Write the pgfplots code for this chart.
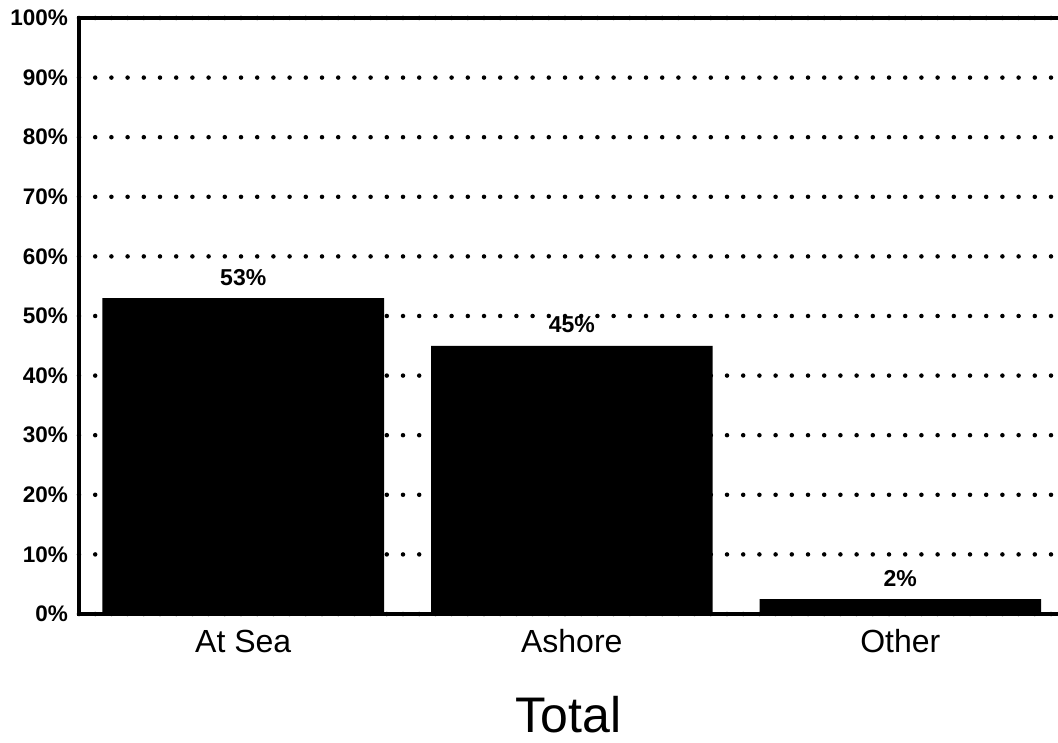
\documentclass[border=0pt]{standalone}
\usepackage{pgfplots}
\pgfplotsset{compat=1.18}
\usepackage{fontspec}
\setmainfont{Liberation Sans}
\begin{document}
\begin{tikzpicture}
\begin{axis}[
  at={(0,0)}, anchor=south west,
  scale only axis,
  width=979pt, height=596pt,
  xmin=-0.5, xmax=2.48,
  ymin=0, ymax=100,
  ybar, bar width=0.857,
  clip=false,
  axis line style={draw=none},
  major tick length=0pt,
  xtick=data,
  xticklabels={At Sea,Ashore,Other},
  xticklabel style={font=\fontsize{32}{36}\selectfont, anchor=base, inner sep=0pt, yshift=-38pt},
  ytick={0,10,...,100},
  yticklabels={0\%,10\%,20\%,30\%,40\%,50\%,60\%,70\%,80\%,90\%,100\%},
  yticklabel style={font=\fontsize{22.5}{26}\selectfont\bfseries, anchor=east, inner sep=0pt, xshift=-11pt},
  ymajorgrids,
  grid style={black, line width=4.5pt, line cap=round, dash pattern=on 0pt off 16.2pt},
  xlabel={Total},
  xlabel style={at={(axis description cs:0.5,0)}, anchor=base, yshift=-118pt, font=\fontsize{50}{56}\selectfont},
  point meta=explicit symbolic,
  nodes near coords,
  nodes near coords style={font=\fontsize{23}{26}\selectfont\bfseries, anchor=base, inner sep=0pt, yshift=13pt},
]
\addplot[fill=black, draw=none] coordinates {(0,53) [53\%] (1,45) [45\%] (2,2.5) [2\%]};
\draw[line width=3.5pt, line join=miter] (rel axis cs:1,1) -- (rel axis cs:0,1) -- (rel axis cs:0,0) -- (rel axis cs:1,0);
\end{axis}
\pgfresetboundingbox
\useasboundingbox (-79pt,-128pt) rectangle (979pt,614pt);
\end{tikzpicture}
\end{document}
